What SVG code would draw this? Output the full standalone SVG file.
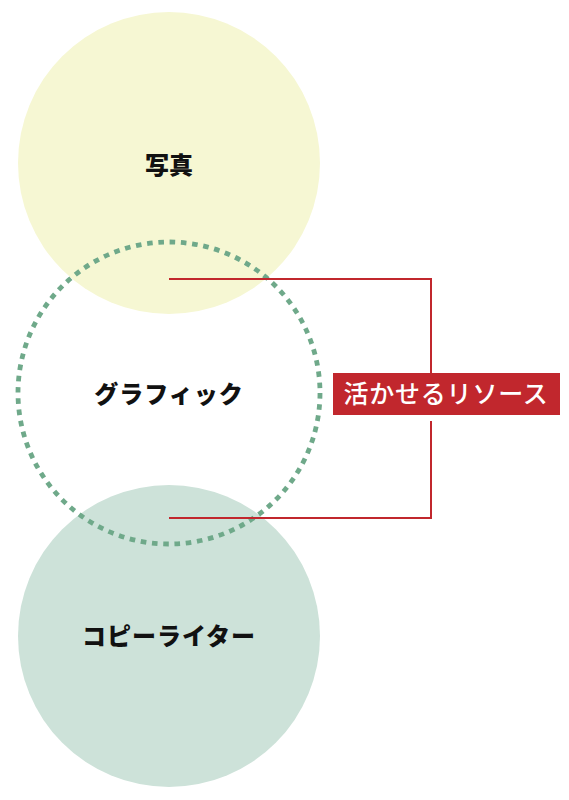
<svg xmlns="http://www.w3.org/2000/svg" width="569" height="800" viewBox="0 0 569 800">
<style>
.lbl{font-family:"Noto Sans CJK JP","Noto Sans",sans-serif;font-weight:900;font-size:24px;fill:#111;text-anchor:middle}
.conn{stroke:#c1272d;stroke-width:2;fill:none}
.tag{font-family:"Noto Sans CJK JP","Noto Sans",sans-serif;font-weight:500;font-size:25px;fill:#fff;text-anchor:middle}
</style>
<rect width="569" height="800" fill="#fff"/>
<g id="photo">
<circle cx="169" cy="163" r="151" fill="#f6f7d3"/>
<text class="lbl" x="169" y="174" font-size="25">写真</text>
</g>
<g id="copywriter">
<circle cx="169" cy="636" r="151" fill="#cde2d9"/>
<text class="lbl" x="169" y="645" letter-spacing="1">コピーライター</text>
</g>
<g id="graphic">
<circle cx="169" cy="393" r="151" fill="none" stroke="#6fa98a" stroke-width="4.8" stroke-dasharray="5.6 5.7"/>
<text class="lbl" x="169" y="403" letter-spacing="1">グラフィック</text>
</g>
<g id="connectors">
<polyline class="conn" points="169,279 431,279 431,374"/>
<polyline class="conn" points="169,518 431,518 431,421"/>
</g>
<g id="resources">
<rect x="333" y="373" width="227" height="42" fill="#c1272d"/>
<text class="tag" x="446" y="403" letter-spacing="0.8">活かせるリソース</text>
</g>
</svg>
